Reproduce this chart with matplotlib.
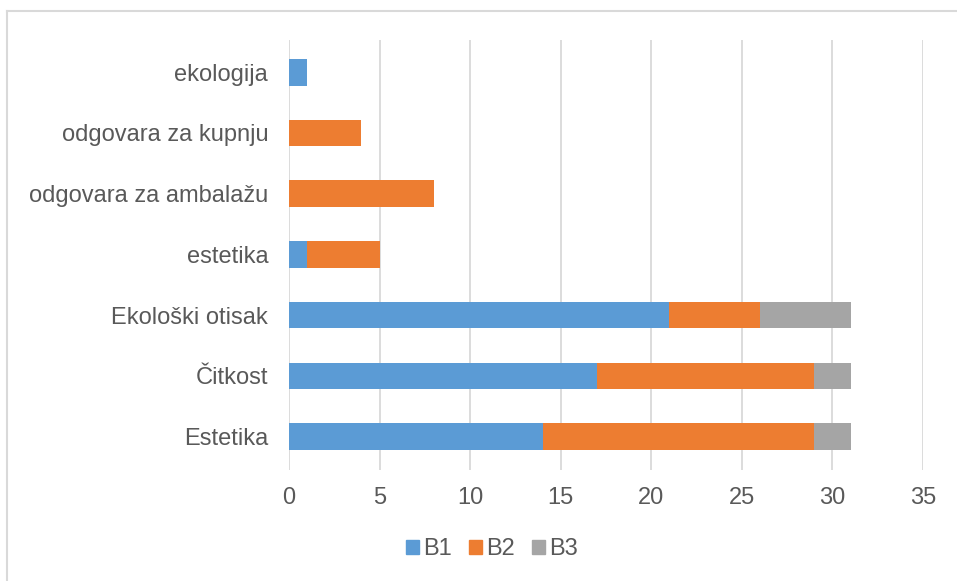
import matplotlib
matplotlib.use("Agg")
import matplotlib.pyplot as plt
from matplotlib.lines import Line2D
import numpy as np

plt.rcParams['font.family'] = ['Liberation Sans', 'DejaVu Sans']

categories = ["Estetika", "Čitkost", "Ekološki otisak", "estetika",
              "odgovara za ambalažu", "odgovara za kupnju", "ekologija"]
b1 = [14, 17, 21, 1, 0, 0, 1]
b2 = [15, 12, 5, 4, 8, 4, 0]
b3 = [2, 2, 5, 0, 0, 0, 0]
series_names = ["B1", "B2", "B3"]
colors = ["#5b9bd5", "#ed7d31", "#a5a5a5"]
x_ticks = [0, 5, 10, 15, 20, 25, 30, 35]

W, H = 957, 581
fig = plt.figure(figsize=(W / 100, H / 100), dpi=100)
ax = fig.add_axes([289 / W, 1 - 470 / H, (923 - 289) / W, (470 - 40) / H])

y = np.arange(len(categories))
left = np.zeros(len(categories))
for vals, name, col in zip([b1, b2, b3], series_names, colors):
    vals = np.array(vals, dtype=float)
    ax.barh(y, vals, left=left, height=0.44, color=col, label=name, zorder=3)
    left += vals

ax.set_xlim(0, 35)
ax.set_ylim(-0.55, 6.53)
ax.set_xticks(x_ticks)
ax.set_yticks(y)
ax.set_yticklabels(categories)
ax.tick_params(axis='both', length=0, labelsize=17, labelcolor="#595959")
ax.tick_params(axis='y', pad=15)
ax.tick_params(axis='x', pad=12)
ax.grid(axis='x', color="#d9d9d9", linewidth=1.3, zorder=0)
for s in ax.spines.values():
    s.set_visible(False)

handles = [plt.Rectangle((0, 0), 1, 1, color=c) for c in colors]
fig.legend(handles, series_names, loc='center', bbox_to_anchor=(492 / W, 1 - 549 / H),
           ncol=3, frameon=False, fontsize=17, labelcolor="#595959",
           handlelength=0.55, handleheight=0.55, handletextpad=0.2, columnspacing=0.7)

# outer chart frame (left and top edges)
fig.add_artist(Line2D([7 / W, 7 / W], [0, 1 - 10.5 / H], transform=fig.transFigure,
                      color="#d9d9d9", linewidth=1.5))
fig.add_artist(Line2D([7 / W, 1], [1 - 10.5 / H, 1 - 10.5 / H], transform=fig.transFigure,
                      color="#d9d9d9", linewidth=1.5))

fig.savefig("out.png", dpi=100, facecolor="white")
